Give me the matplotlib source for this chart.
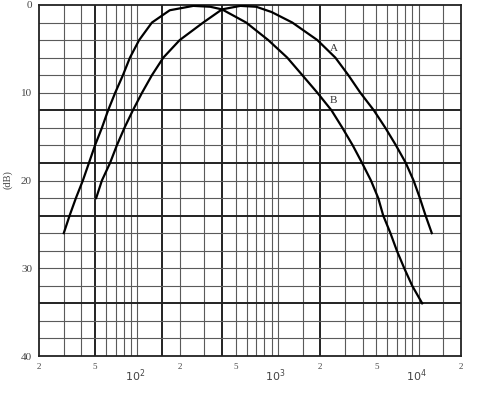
import matplotlib
matplotlib.use('Agg')
import matplotlib.pyplot as plt
import matplotlib.transforms as mtransforms

plt.rcParams['font.family'] = ['Liberation Serif', 'DejaVu Serif']

# 曲線A (周波数 Hz, レベル dB)
a_freq = [51, 56, 64, 71.5, 81, 93, 108, 127, 153, 200, 294, 400, 540, 700, 900,
          1264, 1905, 2558, 3165, 3850, 4800, 5800, 6900, 8100, 9200, 10200, 11200, 12400]
a_db = [22, 20, 18, 16, 14, 12, 10, 8, 6, 4, 2, 0.5, 0.1, 0.2, 0.8,
        2, 4, 6, 8, 10, 12, 14, 16, 18, 20, 22, 24, 26]

# 曲線B
b_freq = [30, 33, 36.6, 41, 45.3, 50, 56, 62, 69.6, 79, 88.6, 103, 127, 170, 250, 330, 400,
          594, 853, 1164, 1490, 1905, 2400, 2870, 3400, 3960, 4580, 5160, 5600, 6300,
          7000, 7900, 9000, 10600]
b_db = [26, 24, 22, 20, 18, 16, 14, 12, 10, 8, 6, 4, 2, 0.6, 0.1, 0.2, 0.5,
        2, 4, 6, 8, 10, 12, 14, 16, 18, 20, 22, 24, 26,
        28, 30, 32, 34]

# 目盛り
x_tick_pos = [20, 50, 200, 500, 2000, 5000, 20000]
x_tick_labels = ['2', '5', '2', '5', '2', '5', '2']
decade_pos = [100, 1000, 10000]
decade_labels = ['$10^2$', '$10^3$', '$10^4$']
y_ticks = [0, 10, 20, 30, 40]

# グリッド線
v_thin = [30, 40, 60, 70, 80, 90, 100, 200, 300, 500, 600, 700, 800, 900, 1000,
          1500, 3000, 4000, 5000, 6000, 7000, 8000, 9000, 10000, 15000]
v_thick = [50, 150, 400, 2000]
h_thin = [2, 4, 6, 8, 10, 14, 16, 20, 22, 26, 28, 30, 32, 36, 38]
h_thick = [12, 18, 24, 34]

fig = plt.figure(figsize=(5, 3.95), dpi=100)
ax = fig.add_axes([39 / 500, 1 - 356 / 395, 422 / 500, 351 / 395])

for v in v_thin:
    ax.axvline(v, color='#5a5a5a', lw=0.8, zorder=1)
for v in v_thick:
    ax.axvline(v, color='#222222', lw=1.4, zorder=1)
for h in h_thin:
    ax.axhline(h, color='#5a5a5a', lw=0.8, zorder=1)
for h in h_thick:
    ax.axhline(h, color='#222222', lw=1.4, zorder=1)

ax.plot(a_freq, a_db, color='black', lw=1.6, zorder=3)
ax.plot(b_freq, b_db, color='black', lw=1.6, zorder=3)

ax.text(2480, 5.0, 'A', fontsize=8, color='#333333', ha='center', va='center')
ax.text(2480, 10.9, 'B', fontsize=8, color='#333333', ha='center', va='center')

ax.set_xscale('log')
ax.set_xlim(20, 20000)
ax.set_ylim(40, 0)

ax.set_xticks(x_tick_pos)
ax.set_xticklabels(x_tick_labels)
ax.minorticks_off()
ax.set_yticks(y_ticks)
ax.tick_params(axis='both', length=0, colors='#444444')
ax.tick_params(axis='x', pad=5, labelsize=6.5)
ax.tick_params(axis='y', pad=5, labelsize=8)

trans = mtransforms.blended_transform_factory(ax.transData, fig.transFigure)
for p, lab in zip(decade_pos, decade_labels):
    ax.text(p * 0.96, 1 - 376 / 395, lab, transform=trans, fontsize=8,
            color='#444444', ha='center', va='center')

for s in ax.spines.values():
    s.set_color('#222222')
    s.set_linewidth(1.3)

fig.text(8 / 500, 1 - 180 / 395, '(dB)', rotation=90, fontsize=7.5,
         color='#444444', ha='center', va='center')

fig.savefig('out.png', dpi=100)
